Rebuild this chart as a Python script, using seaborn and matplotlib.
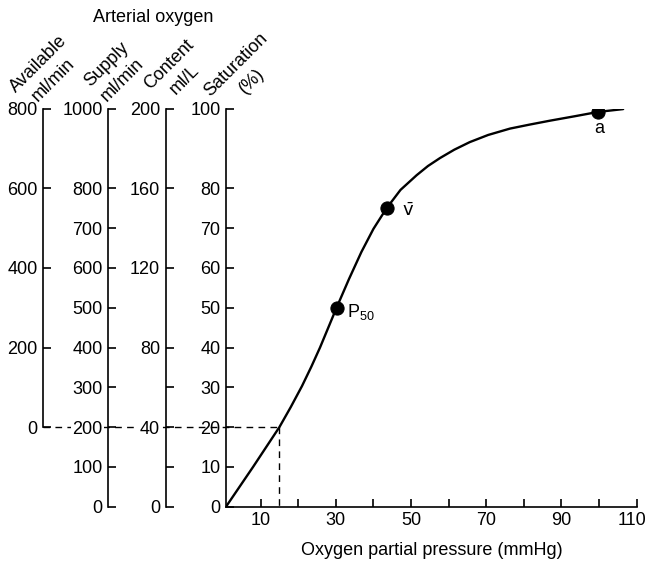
import matplotlib
matplotlib.use("Agg")
import matplotlib.pyplot as plt
import matplotlib.transforms as mtransforms
import seaborn as sns
import pandas as pd

# ---------------- data ----------------
po2 = [0.8, 8.0, 15.0, 18.0, 21.0, 23.5, 25.8, 28.0, 30.2, 33.5, 36.8,
       40.0, 43.5, 47.2, 51.5, 54.5, 57.7, 61.5, 65.6, 70.5, 76.3, 81.5,
       87.0, 93.5, 99.8, 106.4]
so2 = [0.0, 10.0, 20.0, 25.0, 30.3, 35.2, 40.0, 45.0, 50.0, 57.2, 64.0,
       69.8, 75.0, 79.6, 83.3, 85.6, 87.6, 89.7, 91.6, 93.4, 95.0, 96.0,
       97.0, 98.1, 99.2, 99.9]

point_names = ["P$_{50}$", r"$\bar{\mathrm{v}}$", "a"]
point_po2 = [30.2, 43.5, 99.8]
point_so2 = [50.0, 75.0, 99.2]

ref_po2 = 15.0
ref_so2 = 20.0

x_ticks = [10, 20, 30, 40, 50, 60, 70, 80, 90, 100, 110]
x_ticklabels = ["10", "", "30", "", "50", "", "70", "", "90", "", "110"]
sat_ticks = [0, 10, 20, 30, 40, 50, 60, 70, 80, 100]
content_ticks = [0, 20, 40, 60, 80, 120, 160, 200]
content_ticklabels = ["0", "", "40", "", "80", "120", "160", "200"]
supply_ticks = [0, 100, 200, 300, 400, 500, 600, 700, 800, 1000]
avail_ticks = [0, 200, 400, 600, 800]

axis_titles = ["Available\nml/min", "Supply\nml/min", "Content\nml/L", "Saturation\n(%)"]
header = "Arterial oxygen"
xlabel = "Oxygen partial pressure (mmHg)"

# ---------------- style ----------------
sns.set_theme(style="ticks", rc={
    "text.color": "black", "axes.labelcolor": "black",
    "xtick.color": "black", "ytick.color": "black",
    "axes.edgecolor": "black",
})
plt.rcParams["font.family"] = ["Liberation Sans", "DejaVu Sans"]
plt.rcParams["mathtext.default"] = "regular"
FS = 13
LW = 1.2

W, H = 648, 561
fig = plt.figure(figsize=(W / 100, H / 100), dpi=100)

bottom = 1 - 506.7 / H
height = 398.0 / H


def style_axis(a):
    a.tick_params(axis="both", direction="in", length=5.8, width=LW,
                  labelsize=FS, pad=4.0, colors="black",
                  left=True, bottom=True)
    for s in a.spines.values():
        s.set_linewidth(LW)
        s.set_color("black")


# main axes
ax = fig.add_axes([226 / W, bottom, 410.7 / W, height])
ax.set_zorder(-1)
df = pd.DataFrame({"po2": po2, "so2": so2})
sns.lineplot(data=df, x="po2", y="so2", ax=ax, color="black", lw=1.7,
             sort=False, estimator=None)
sns.scatterplot(x=point_po2, y=point_so2, ax=ax, s=90, color="black",
                edgecolor="black", zorder=4, legend=False)
ax.set_xlim(0.8, 110)
ax.set_ylim(0, 100)
ax.set_xticks(x_ticks, x_ticklabels)
ax.set_yticks(sat_ticks)
ax.spines["top"].set_visible(False)
ax.spines["right"].set_visible(False)
style_axis(ax)
ax.set_xlabel(xlabel, fontsize=FS, labelpad=9)
ax.set_ylabel("")

# point labels
offsets = [((7.2, -7.0), "left"), ((10.8, -5.5), "left"), ((0.5, -15.5), "center")]
for name, px, py, (off, ha) in zip(point_names, point_po2, point_so2, offsets):
    ax.annotate(name, (px, py), xytext=off, textcoords="offset points",
                ha=ha, va="baseline", fontsize=FS)


def side_axis(xpix, lim, ticks, labels=None, bounds=None):
    a = fig.add_axes([xpix / W, bottom, 0.01, height])
    a.set_facecolor("none")
    for k in ["top", "right", "bottom"]:
        a.spines[k].set_visible(False)
    a.set_xticks([])
    a.set_ylim(*lim)
    if labels is None:
        a.set_yticks(ticks)
    else:
        a.set_yticks(ticks, labels)
    if bounds is not None:
        a.spines["left"].set_bounds(*bounds)
    style_axis(a)
    a.tick_params(bottom=False)
    return a


ax_content = side_axis(165.5, (0, 200), content_ticks, content_ticklabels)
ax_supply = side_axis(108.3, (0, 1000), supply_ticks)
ax_avail = side_axis(43.0, (-200, 800), avail_ticks, bounds=(0, 800))

for a in [ax, ax_content, ax_supply, ax_avail]:
    for lab in a.get_yticklabels():
        lab.set_bbox(dict(facecolor="white", edgecolor="none", pad=0.8))

# last x tick label sits slightly left of its tick, as in the reference
last = ax.get_xticklabels()[-1]
last.set_transform(last.get_transform() +
                   mtransforms.ScaledTranslation(-0.05, 0, fig.dpi_scale_trans))

# dashed reference lines (drawn in main axes data coordinates)
fig.canvas.draw()
x_start = ax.transData.inverted().transform(
    fig.transFigure.transform((43.0 / W, 0)))[0]
dash = (0, (4.8, 3.8))
ax.plot([x_start, ref_po2], [ref_so2, ref_so2], ls=dash,
        color="black", lw=1.0, clip_on=False, zorder=1)
ax.plot([ref_po2, ref_po2], [ref_so2, 0], ls=dash,
        color="black", lw=1.0, clip_on=False, zorder=1)

# header and rotated axis titles
fig.text(153 / W, 1 - 21.7 / H, header, ha="center", va="baseline", fontsize=FS)
title_pos = [(46, 72), (115, 72), (177, 72), (244, 73)]
for t, (tx, ty) in zip(axis_titles, title_pos):
    fig.text(tx / W, 1 - ty / H, t, rotation=45, rotation_mode="anchor",
             ha="center", va="center", multialignment="center",
             linespacing=1.4, fontsize=FS)

fig.savefig("out.png", dpi=100)
